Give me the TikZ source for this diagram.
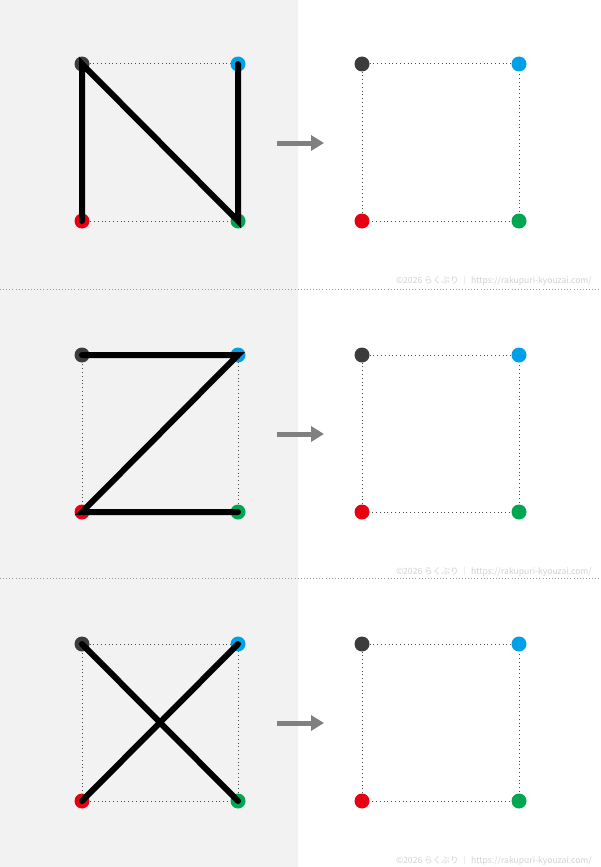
\documentclass[tikz,border=0pt]{standalone}
\usepackage{fontspec}
\newfontfamily\cjk{Noto Sans CJK JP}
\usetikzlibrary{arrows.meta}
\definecolor{bggray}{HTML}{F2F2F2}
\definecolor{cdark}{HTML}{3C3C3C}
\definecolor{cblue}{HTML}{00A0E9}
\definecolor{cred}{HTML}{E60012}
\definecolor{cgreen}{HTML}{00A650}
\definecolor{arrgray}{HTML}{808080}
\definecolor{wmgray}{HTML}{D2D2D2}
\tikzset{
  guide/.style={draw=black!70, line width=1pt, dash pattern=on 1pt off 2.8pt},
  sep/.style={draw=black!40, line width=0.9pt, dash pattern=on 0.9pt off 2.2pt},
  stroke/.style={line width=6pt, line cap=round, black},
  dot/.style={circle, inner sep=0pt, minimum size=15pt},
  arr/.style={-{Triangle[length=13pt,width=15pt]}, line width=5pt, arrgray},
  wm/.style={anchor=east, text=wmgray, font=\cjk\fontsize{8.6pt}{10pt}\selectfont, inner sep=0pt}
}
\begin{document}
\begin{tikzpicture}[x=1pt,y=-1pt]
\useasboundingbox (0,0) rectangle (600,867);
\fill[white] (0,0) rectangle (600,867);
\fill[bggray] (0,0) rectangle (298,867);
\coordinate (s1a) at (0,289); \coordinate (s1b) at (600,289);
\coordinate (s2a) at (0,578); \coordinate (s2b) at (600,578);
\draw[sep] (s1a) -- (s1b);
\draw[sep] (s2a) -- (s2b);
\foreach \p/\oy in {1/0,2/291,3/580}{
  % left square
  \coordinate (L\p tl) at (82,64+\oy);
  \coordinate (L\p tr) at (238,64+\oy);
  \coordinate (L\p bl) at (82,221+\oy);
  \coordinate (L\p br) at (238,221+\oy);
  \draw[guide] (L\p tl) -- (L\p tr) -- (L\p br) -- (L\p bl) -- cycle;
  \node[dot, fill=cdark] (Ld\p tl) at (L\p tl) {};
  \node[dot, fill=cblue] (Ld\p tr) at (L\p tr) {};
  \node[dot, fill=cred] (Ld\p bl) at (L\p bl) {};
  \node[dot, fill=cgreen] (Ld\p br) at (L\p br) {};
  % right square
  \coordinate (R\p tl) at (362,64+\oy);
  \coordinate (R\p tr) at (519,64+\oy);
  \coordinate (R\p bl) at (362,221+\oy);
  \coordinate (R\p br) at (519,221+\oy);
  \draw[guide] (R\p tl) -- (R\p tr) -- (R\p br) -- (R\p bl) -- cycle;
  \node[dot, fill=cdark] (Rd\p tl) at (R\p tl) {};
  \node[dot, fill=cblue] (Rd\p tr) at (R\p tr) {};
  \node[dot, fill=cred] (Rd\p bl) at (R\p bl) {};
  \node[dot, fill=cgreen] (Rd\p br) at (R\p br) {};
  % arrow
  \coordinate (A\p s) at (277,143+\oy);
  \coordinate (A\p e) at (324,143+\oy);
  \draw[arr] (A\p s) -- (A\p e);
  % watermark
  \node[wm] (W\p) at (592,281+\oy) {©2026 らくぷり ｜ https://rakupuri-kyouzai.com/};
}
% N
\draw[stroke] (L1bl.center) -- (L1tl.center) -- (L1br.center) -- (L1tr.center);
% Z
\draw[stroke] (L2tl.center) -- (L2tr.center) -- (L2bl.center) -- (L2br.center);
% X
\draw[stroke] (L3tl.center) -- (L3br.center);
\draw[stroke] (L3tr.center) -- (L3bl.center);
\end{tikzpicture}
\end{document}
